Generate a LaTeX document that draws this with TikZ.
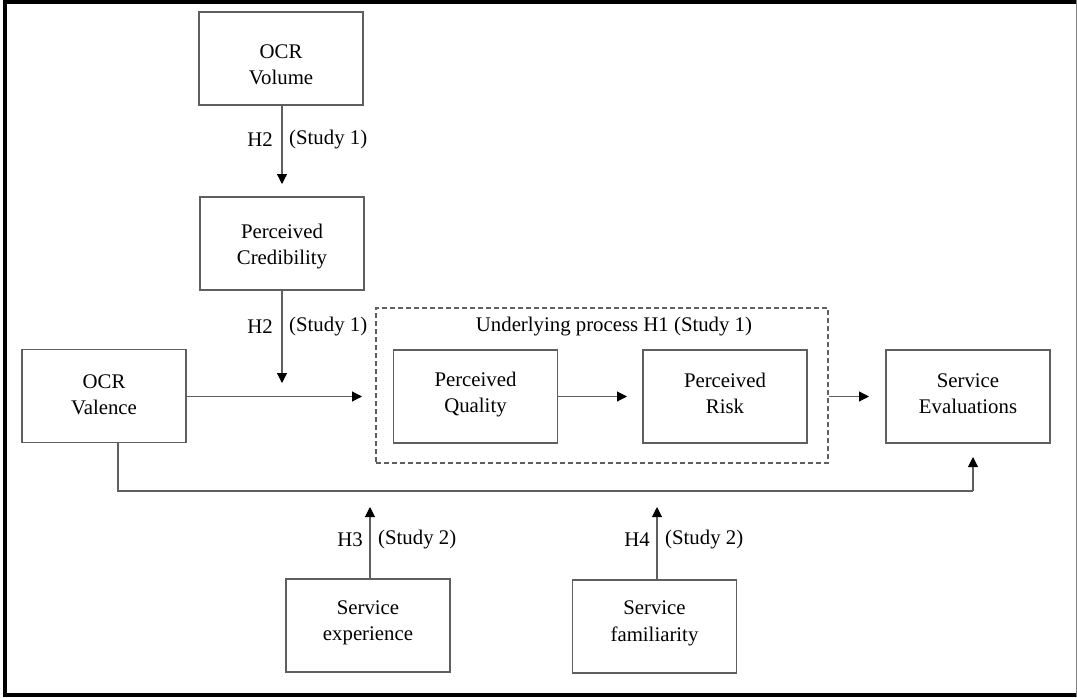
\documentclass[tikz,border=0pt]{standalone}
\usepackage{fontspec}
\setmainfont{Liberation Serif}
\usetikzlibrary{arrows.meta}
\definecolor{boxgray}{RGB}{95,95,95}
\newcommand\twoline[3]{\rule[-#1pt]{0pt}{26pt}#2\\\rule[-#1pt]{0pt}{26pt}#3}
\begin{document}
\begin{tikzpicture}[x=1pt,y=-1pt,
  every node/.style={font=\fontsize{20.8}{26}\selectfont, text=black},
  box/.style={draw=boxgray, line width=1.1pt, minimum width=164pt, minimum height=93pt, inner sep=0pt, align=center},
  lbl/.style={inner sep=0pt},
  arr/.style={draw=boxgray, line width=1.1pt, -{Triangle[length=10pt,width=10pt,fill=black,color=black]}},
  ln/.style={draw=boxgray, line width=1.1pt}
]
\useasboundingbox (0,0) rectangle (1077,697);
% outer frame
\draw[black, line width=3.5pt] (1076,1.75) -- (4.75,1.75) -- (4.75,695) -- (1076,695);
\draw[gray, line width=1pt] (1076,0) -- (1076,697);

% boxes
\node[box] (vol) at (281,58.5) {\twoline{0.5}{OCR}{Volume}};
\node[box] (cred) at (282,243.5) {\twoline{5}{Perceived}{Credibility}};
\node[box] (val) at (104,396) {\twoline{8}{OCR}{Valence}};
\node[box] (qual) at (475.5,396.5) {\twoline{10}{Perceived}{Quality}};
\node[box] (risk) at (725,396.5) {\twoline{9}{Perceived}{Risk}};
\node[box] (eval) at (968,396.5) {\twoline{9.5}{Service}{Evaluations}};
\node[box] (exp) at (368,625.5) {\twoline{11.5}{Service}{experience}};
\node[box] (fam) at (654.5,626.5) {\twoline{11.5}{Service}{familiarity}};

% dashed process box
\node[draw=boxgray, line width=1.1pt, dash pattern=on 5pt off 3pt, minimum width=452pt, minimum height=155pt, inner sep=0pt] (proc) at (602,385.5) {};
\node[lbl] (proct) at (614,327) {Underlying process H1 (Study 1)};

% coordinates
\coordinate (t1) at (282,184);
\coordinate (t2) at (282,383);
\coordinate (tv) at (362,396.5);
\coordinate (tq) at (627,396.5);
\coordinate (te) at (869,396.5);
\coordinate (b1) at (118,491);
\coordinate (b2) at (973,491);
\coordinate (b3) at (973,457);
\coordinate (u1) at (370,507);
\coordinate (u2) at (657,507);

% connectors
\draw[arr] (vol.south -| t1) -- (t1);
\draw[arr] (cred.south -| t2) -- (t2);
\draw[arr] (val.east |- tv) -- (tv);
\draw[arr] (qual.east) -- (tq);
\draw[arr] (proc.east |- te) -- (te);
\draw[ln] (val.south -| b1) -- (b1) -- (b2);
\draw[arr] (b2) -- (b3);
\draw[arr] (exp.north -| u1) -- (u1);
\draw[arr] (fam.north -| u2) -- (u2);

% labels
\node[lbl, anchor=east] (h2a) at (273,140) {H2};
\node[lbl, anchor=west] (s1a) at (289,140) {(Study 1)};
\node[lbl, anchor=east] (h2b) at (273,327) {H2};
\node[lbl, anchor=west] (s1b) at (289,327) {(Study 1)};
\node[lbl, anchor=east] (h3) at (363,540) {H3};
\node[lbl, anchor=west] (s2a) at (378,540) {(Study 2)};
\node[lbl, anchor=east] (h4) at (650,540) {H4};
\node[lbl, anchor=west] (s2b) at (665,540) {(Study 2)};
\end{tikzpicture}
\end{document}
